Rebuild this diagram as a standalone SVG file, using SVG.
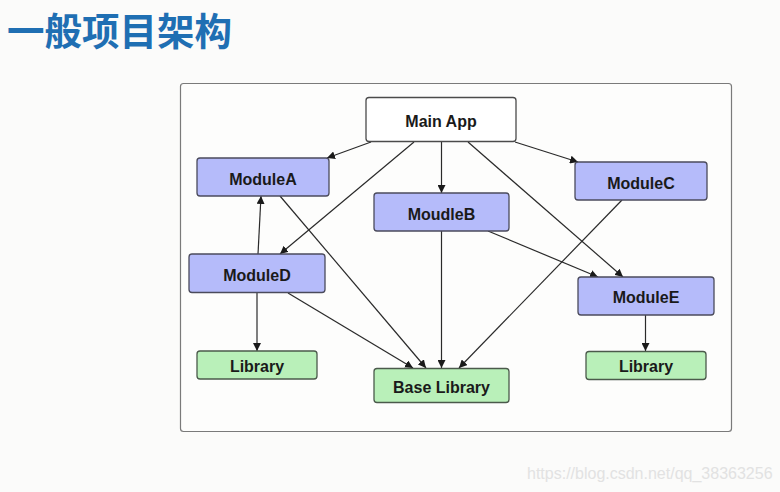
<svg xmlns="http://www.w3.org/2000/svg" width="780" height="492" viewBox="0 0 780 492">
<defs>
<style>
.bg{fill:#fbfbfa}
.frame{fill:#fdfdfc;stroke:#7a7a7a;stroke-width:1.2}
.mod{fill:#b5bbfa;stroke:#4b4b5c;stroke-width:1.3}
.lib{fill:#b9f0b9;stroke:#4b5a4b;stroke-width:1.3}
.main{fill:#ffffff;stroke:#4b4b4b;stroke-width:1.3}
.lbl{font-family:"Liberation Sans",Arial,sans-serif;font-weight:bold;font-size:16px;fill:#1a1a1a;text-anchor:middle}
.edge{stroke:#2a2a2a;stroke-width:1.2;fill:none;marker-end:url(#ah)}
.title{font-family:"Noto Sans CJK SC","Noto Sans",sans-serif;font-weight:bold;font-size:37.5px;fill:#1f6fb3}
.wm{font-family:"Liberation Sans",Arial,sans-serif;font-size:16px;fill:#e2e2e2}
</style>
<marker id="ah" viewBox="0 0 10 10" refX="10" refY="5" markerWidth="8" markerHeight="8" markerUnits="userSpaceOnUse" orient="auto">
<path d="M0,0 L10,5 L0,10 z" fill="#1a1a1a"/>
</marker>
</defs>
<rect class="bg" x="0" y="0" width="780" height="492"/>
<text class="title" x="7" y="45">一般项目架构</text>
<rect class="frame" x="180.5" y="83.5" width="551" height="348" rx="3"/>
<g id="connectors">
<line class="edge" x1="371" y1="142" x2="327" y2="158"/>
<line class="edge" x1="414" y1="142" x2="280" y2="254"/>
<line class="edge" x1="441.5" y1="142" x2="441.5" y2="193"/>
<line class="edge" x1="468" y1="142" x2="623" y2="277"/>
<line class="edge" x1="515" y1="142" x2="578" y2="162"/>
<line class="edge" x1="280" y1="196" x2="426" y2="368"/>
<line class="edge" x1="258" y1="254" x2="261" y2="196"/>
<line class="edge" x1="441.5" y1="231" x2="441.5" y2="368"/>
<line class="edge" x1="488" y1="231" x2="598" y2="277"/>
<line class="edge" x1="622" y1="200" x2="459" y2="368"/>
<line class="edge" x1="257" y1="293" x2="257" y2="351"/>
<line class="edge" x1="288" y1="293" x2="413" y2="368"/>
<line class="edge" x1="645.5" y1="315" x2="645.5" y2="351"/>
</g>
<g id="mainapp"><rect class="main" x="366" y="97.5" width="150" height="44" rx="3"/><text class="lbl" x="441" y="126.5">Main App</text></g>
<g id="moduleA"><rect class="mod" x="197" y="158" width="132" height="38" rx="3"/><text class="lbl" x="263" y="184.5">ModuleA</text></g>
<g id="moudleB"><rect class="mod" x="374" y="193" width="135" height="38" rx="3"/><text class="lbl" x="441.5" y="219.5">MoudleB</text></g>
<g id="moduleC"><rect class="mod" x="575" y="162" width="132" height="38" rx="3"/><text class="lbl" x="641" y="188.5">ModuleC</text></g>
<g id="moduleD"><rect class="mod" x="189" y="254" width="136" height="38.5" rx="3"/><text class="lbl" x="257" y="281">ModuleD</text></g>
<g id="moduleE"><rect class="mod" x="578" y="277" width="136" height="38" rx="3"/><text class="lbl" x="646" y="303">ModuleE</text></g>
<g id="libraryLeft"><rect class="lib" x="197" y="351" width="120" height="28" rx="3"/><text class="lbl" x="257" y="372">Library</text></g>
<g id="baseLibrary"><rect class="lib" x="374" y="368.5" width="135" height="34" rx="3"/><text class="lbl" x="441.5" y="393">Base Library</text></g>
<g id="libraryRight"><rect class="lib" x="586" y="351.5" width="120" height="28" rx="3"/><text class="lbl" x="646" y="372">Library</text></g>
<text class="wm" x="527" y="479">https://blog.csdn.net/qq_38363256</text>
</svg>
